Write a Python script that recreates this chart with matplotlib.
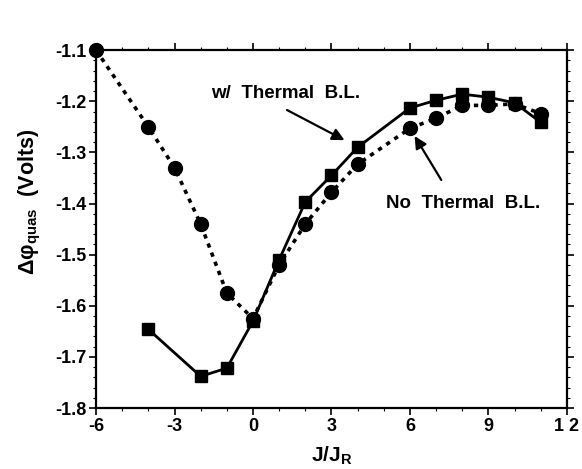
import matplotlib
matplotlib.use("Agg")
import matplotlib.pyplot as plt
from matplotlib.ticker import MultipleLocator

plt.rcParams['font.family'] = ['Liberation Sans', 'DejaVu Sans']
plt.rcParams['font.weight'] = 'bold'
plt.rcParams['mathtext.fontset'] = 'custom'
plt.rcParams['mathtext.rm'] = 'Liberation Sans:bold'
plt.rcParams['mathtext.it'] = 'Liberation Sans:bold'
plt.rcParams['mathtext.bf'] = 'Liberation Sans:bold'

# No Thermal B.L. (circles, dotted)
j_no = [-6, -4, -3, -2, -1, 0, 1, 2, 3, 4, 6, 7, 8, 9, 10, 11]
phi_no = [-1.10, -1.25, -1.33, -1.44, -1.575, -1.625, -1.52, -1.44, -1.378, -1.323,
          -1.253, -1.233, -1.208, -1.208, -1.205, -1.224]

# w/ Thermal B.L. (squares, solid)
j_w = [-4, -2, -1, 0, 1, 2, 3, 4, 6, 7, 8, 9, 10, 11]
phi_w = [-1.646, -1.738, -1.722, -1.63, -1.51, -1.397, -1.345, -1.29,
         -1.213, -1.198, -1.186, -1.192, -1.203, -1.241]

xticks = [-6, -3, 0, 3, 6, 9, 12]
xticklabels = ['-6', '-3', '0', '3', '6', '9', '1 2']
yticks = [-1.8, -1.7, -1.6, -1.5, -1.4, -1.3, -1.2, -1.1]

fig = plt.figure(figsize=(5.82, 4.69), dpi=100)
ax = fig.add_axes([0.165, 0.130, 0.809, 0.763])

ax.plot(j_no, phi_no, linestyle=(0, (1.2, 1.5)), color='black', linewidth=2.6,
        marker='o', markersize=10, markerfacecolor='black', markeredgecolor='black',
        zorder=3, clip_on=False)
ax.plot(j_w, phi_w, linestyle='-', color='black', linewidth=2.0,
        marker='s', markersize=9, markerfacecolor='black', markeredgecolor='black',
        zorder=4, clip_on=False)

ax.set_xlim(-6, 12)
ax.set_ylim(-1.8, -1.1)
ax.set_xticks(xticks)
ax.set_xticklabels(xticklabels)
ax.set_yticks(yticks)
ax.set_yticklabels([f'{v:.1f}' for v in yticks])
ax.xaxis.set_minor_locator(MultipleLocator(1))
ax.yaxis.set_minor_locator(MultipleLocator(0.02))

ax.tick_params(which='major', direction='out', length=5, width=1.2, labelsize=13,
               top=True, right=True, pad=2)
ax.tick_params(which='minor', direction='out', length=2, width=0.8, top=True, right=True)
for lab in ax.get_xticklabels() + ax.get_yticklabels():
    lab.set_fontweight('bold')
for s in ax.spines.values():
    s.set_linewidth(1.6)

ax.set_xlabel('J/J$_{R}$', fontsize=15, fontweight='bold', labelpad=7)
ax.set_ylabel('Δφ$_{quas}$  (Volts)', fontsize=15.5, fontweight='bold')
ax.yaxis.set_label_coords(-0.112, 0.575)

ax.text(1.25, -1.184, 'w/  Thermal  B.L.', fontsize=13.5, fontweight='bold',
        ha='center', va='center')
ax.annotate('', xy=(3.5, -1.276), xytext=(1.3, -1.217),
            arrowprops=dict(arrowstyle='-|>', color='black', lw=1.6,
                            shrinkA=0, shrinkB=0, mutation_scale=18))
ax.annotate('', xy=(6.18, -1.268), xytext=(7.2, -1.354),
            arrowprops=dict(arrowstyle='-|>', color='black', lw=1.6,
                            shrinkA=0, shrinkB=0, mutation_scale=18))
ax.text(8.05, -1.399, 'No  Thermal  B.L.', fontsize=13.5, fontweight='bold',
        ha='center', va='center')

fig.savefig('out.png', dpi=100)
